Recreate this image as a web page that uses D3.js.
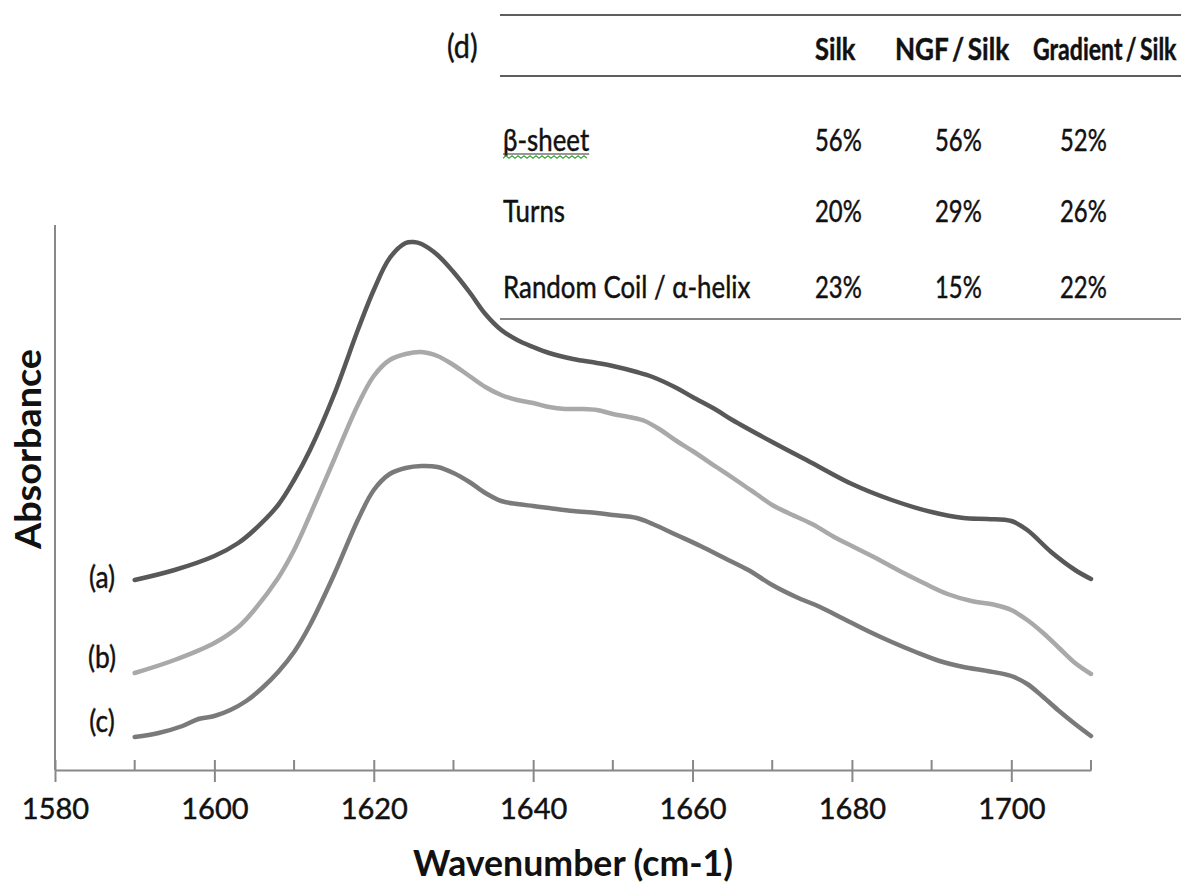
<!DOCTYPE html>
<html>
<head>
<meta charset="utf-8">
<script src="https://cdn.jsdelivr.net/npm/d3@7"></script>
<style>
  html, body { margin: 0; padding: 0; background: #fff; }
  svg { display: block; font-family: Lato, "Open Sans", sans-serif; }
  .ink { stroke: #111; stroke-width: 0.45px; paint-order: stroke; }
</style>
</head>
<body>
<svg id="chart" width="1181" height="885"></svg>
<script>
// FTIR amide I spectra of silk films, offset vertically for clarity
const wavenumberA = [1590,1595,1600,1603,1605,1608,1610,1612,1615,1618,1620,1622,1624,1625,1626,1628,1630,1632,1634,1636,1638,1640,1642,1645,1648,1650,1653,1655,1658,1660,1663,1665,1670,1675,1680,1685,1690,1694,1697,1700,1702,1705,1708,1710];
const absorbanceA = [0.380,0.400,0.428,0.454,0.480,0.530,0.580,0.640,0.750,0.880,0.960,1.024,1.054,1.056,1.052,1.030,0.996,0.956,0.912,0.880,0.860,0.846,0.834,0.822,0.814,0.808,0.796,0.786,0.764,0.746,0.720,0.700,0.656,0.614,0.572,0.540,0.516,0.504,0.502,0.498,0.480,0.436,0.400,0.382];

const wavenumberB = [1590,1595,1600,1603,1605,1608,1610,1612,1615,1618,1620,1622,1624,1626,1628,1630,1632,1634,1636,1638,1640,1642,1644,1646,1648,1650,1652,1654,1656,1658,1660,1663,1666,1668,1670,1672,1675,1678,1680,1683,1686,1689,1692,1695,1698,1700,1702,1704,1706,1708,1710];
const absorbanceB = [0.194,0.220,0.254,0.286,0.320,0.384,0.440,0.510,0.620,0.730,0.788,0.820,0.832,0.836,0.828,0.810,0.788,0.766,0.750,0.740,0.734,0.726,0.722,0.722,0.720,0.712,0.706,0.698,0.680,0.658,0.638,0.606,0.574,0.552,0.530,0.514,0.492,0.464,0.448,0.424,0.398,0.374,0.352,0.338,0.330,0.320,0.300,0.274,0.244,0.214,0.192];

const wavenumberC = [1590,1593,1596,1598,1600,1602,1604,1606,1608,1610,1612,1615,1618,1620,1622,1624,1626,1628,1630,1632,1634,1636,1638,1640,1642,1645,1648,1650,1653,1655,1658,1661,1664,1667,1670,1673,1676,1679,1682,1685,1688,1691,1694,1697,1700,1702,1704,1706,1708,1710];
const absorbanceC = [0.066,0.074,0.088,0.102,0.108,0.120,0.138,0.164,0.196,0.236,0.290,0.390,0.500,0.560,0.592,0.604,0.608,0.606,0.594,0.576,0.554,0.538,0.532,0.528,0.524,0.518,0.514,0.510,0.504,0.492,0.470,0.448,0.424,0.400,0.370,0.346,0.326,0.302,0.278,0.256,0.236,0.218,0.206,0.198,0.188,0.172,0.146,0.118,0.092,0.068];

const seriesLabels = ["(a)", "(b)", "(c)"];
const seriesColors = ["#585858", "#a9a9a9", "#7a7a7a"];

const majorTicks = [1580,1600,1620,1640,1660,1680,1700];
const minorTicks = [1590,1610,1630,1650,1670,1690,1710];

// Secondary-structure table (d)
const tableColumns = ["Silk", "NGF / Silk", "Gradient / Silk"];
const tableRows = ["β-sheet", "Turns", "Random Coil / α-helix"];
const tableSilk = ["56%", "20%", "23%"];
const tableNgf = ["56%", "29%", "15%"];
const tableGradient = ["52%", "26%", "22%"];

const svg = d3.select("#chart");
const axisColor = "#888";

const x = d3.scaleLinear().domain([1580, 1710]).range([55, 1091]);
const y = d3.scaleLinear().domain([0, 1.09]).range([770, 225]);

// condensed-looking text: horizontal squeeze about the anchor point
function squeezed(sel, sx) {
  sel.each(function(d, i) {
    const t = d3.select(this);
    const tx = +t.attr("x"), ty = +t.attr("y");
    const s = typeof sx === "function" ? sx(d, i) : sx;
    t.attr("x", 0).attr("y", 0)
     .attr("transform", `translate(${tx},${ty}) scale(${s},1)`);
  });
  return sel;
}

// ---- x axis ----
const xAxisG = svg.append("g")
  .attr("transform", `translate(0,${y(0)})`)
  .call(d3.axisBottom(x).tickValues(majorTicks).tickSize(12).tickPadding(16).tickFormat(d3.format("d")).tickSizeOuter(0));
xAxisG.select(".domain").attr("stroke", axisColor).attr("stroke-width", 2);
xAxisG.selectAll(".tick line").attr("stroke", axisColor).attr("stroke-width", 2).attr("y1", -10);
xAxisG.selectAll(".tick text")
  .attr("class", "ink")
  .attr("font-family", "Lato, sans-serif").attr("font-size", 29).attr("fill", "#111")
  .attr("dy", "0.71em");

xAxisG.selectAll(".minor")
  .data(minorTicks).join("line")
  .attr("class", "minor")
  .attr("x1", d => x(d)).attr("x2", d => x(d))
  .attr("y1", -10).attr("y2", 0)
  .attr("stroke", axisColor).attr("stroke-width", 2);

// ---- y axis (no ticks) ----
svg.append("line")
  .attr("x1", x(1580)).attr("x2", x(1580))
  .attr("y1", y(1.09)).attr("y2", y(0))
  .attr("stroke", axisColor).attr("stroke-width", 2);

// ---- axis titles ----
squeezed(svg.append("text")
  .attr("x", 573).attr("y", 876)
  .attr("text-anchor", "middle")
  .attr("font-family", "Lato, sans-serif").attr("font-weight", 700)
  .attr("font-size", 36).attr("fill", "#111")
  .text("Wavenumber (cm-1)"), 0.99);

svg.append("text")
  .attr("transform", `translate(41,449) rotate(-90) scale(1.05,1)`)
  .attr("text-anchor", "middle")
  .attr("font-family", "Lato, sans-serif").attr("font-weight", 700)
  .attr("font-size", 36).attr("fill", "#111")
  .text("Absorbance");

// ---- spectra ----
const series = [
  { label: seriesLabels[0], color: seriesColors[0], values: wavenumberA.map((w, i) => [w, absorbanceA[i]]) },
  { label: seriesLabels[1], color: seriesColors[1], values: wavenumberB.map((w, i) => [w, absorbanceB[i]]) },
  { label: seriesLabels[2], color: seriesColors[2], values: wavenumberC.map((w, i) => [w, absorbanceC[i]]) }
];

const line = d3.line()
  .x(d => x(d[0])).y(d => y(d[1]))
  .curve(d3.curveCatmullRom.alpha(0.5));

svg.append("g").selectAll("path")
  .data(series).join("path")
  .attr("d", d => line(d.values))
  .attr("fill", "none")
  .attr("stroke", d => d.color)
  .attr("stroke-width", 4.5)
  .attr("stroke-linecap", "round")
  .attr("stroke-linejoin", "round");

// series labels sit just left of each trace, slightly above its start
const labelY = [588, 668, 732];
squeezed(svg.append("g").selectAll("text")
  .data(series).join("text")
  .attr("class", "ink")
  .attr("x", 102)
  .attr("y", (d, i) => labelY[i])
  .attr("text-anchor", "middle")
  .attr("font-family", "Lato, sans-serif").attr("font-size", 30).attr("fill", "#111")
  .text(d => d.label), 0.88);

// ---- table (d) ----
const tbl = svg.append("g");
const ruleColor = "#5e5e5e";
[15, 76, 319].forEach((ry, i) => {
  tbl.append("line")
    .attr("x1", 500).attr("x2", 1181)
    .attr("y1", ry).attr("y2", ry)
    .attr("stroke", ruleColor).attr("stroke-width", i === 2 ? 1.6 : 2);
});

squeezed(tbl.append("text")
  .attr("class", "ink")
  .attr("x", 447).attr("y", 58)
  .attr("font-family", "Lato, sans-serif").attr("font-size", 32).attr("fill", "#111")
  .text("(d)"), 0.9);

const colX = [815, 895, 1033];
const headerScale = [0.85, 0.87, 0.77];
const valX = [815, 935, 1060];
const rowY = [151, 222, 298];

squeezed(tbl.selectAll(".hdr")
  .data(tableColumns).join("text")
  .attr("class", "hdr ink")
  .attr("x", (d, i) => colX[i]).attr("y", 60)
  .attr("font-family", "Lato, sans-serif").attr("font-weight", 700)
  .attr("font-size", 30).attr("fill", "#111")
  .attr("word-spacing", -3)
  .text(d => d), (d, i) => headerScale[i]);

squeezed(tbl.selectAll(".rowlab")
  .data(tableRows).join("text")
  .attr("class", "rowlab ink")
  .attr("x", 503).attr("y", (d, i) => rowY[i])
  .attr("font-family", "Lato, sans-serif").attr("font-size", 31).attr("fill", "#111")
  .text(d => d), 0.835);

const valueCols = [tableSilk, tableNgf, tableGradient];
valueCols.forEach((col, ci) => {
  squeezed(tbl.selectAll(".val" + ci)
    .data(col).join("text")
    .attr("class", "val" + ci + " ink")
    .attr("x", valX[ci]).attr("y", (d, i) => rowY[i])
    .attr("font-family", "Lato, sans-serif").attr("font-size", 31).attr("fill", "#111")
    .text(d => d), 0.77);
});

// spell-check squiggle under the first row label
const firstLab = tbl.select(".rowlab").node();
const labW = firstLab.getComputedTextLength() * 0.835;
tbl.append("line")
  .attr("x1", 503).attr("x2", 503 + labW)
  .attr("y1", rowY[0] + 3).attr("y2", rowY[0] + 3)
  .attr("stroke", "#333").attr("stroke-width", 1.2);
const wave = d3.range(0, Math.floor(labW / 3) + 1).map(k => [503 + k * 3, rowY[0] + 6 + (k % 2 ? -1.2 : 1.2)]);
tbl.append("path")
  .attr("d", d3.line()(wave))
  .attr("fill", "none").attr("stroke", "#3aa53a").attr("stroke-width", 1.2);
</script>
</body>
</html>
